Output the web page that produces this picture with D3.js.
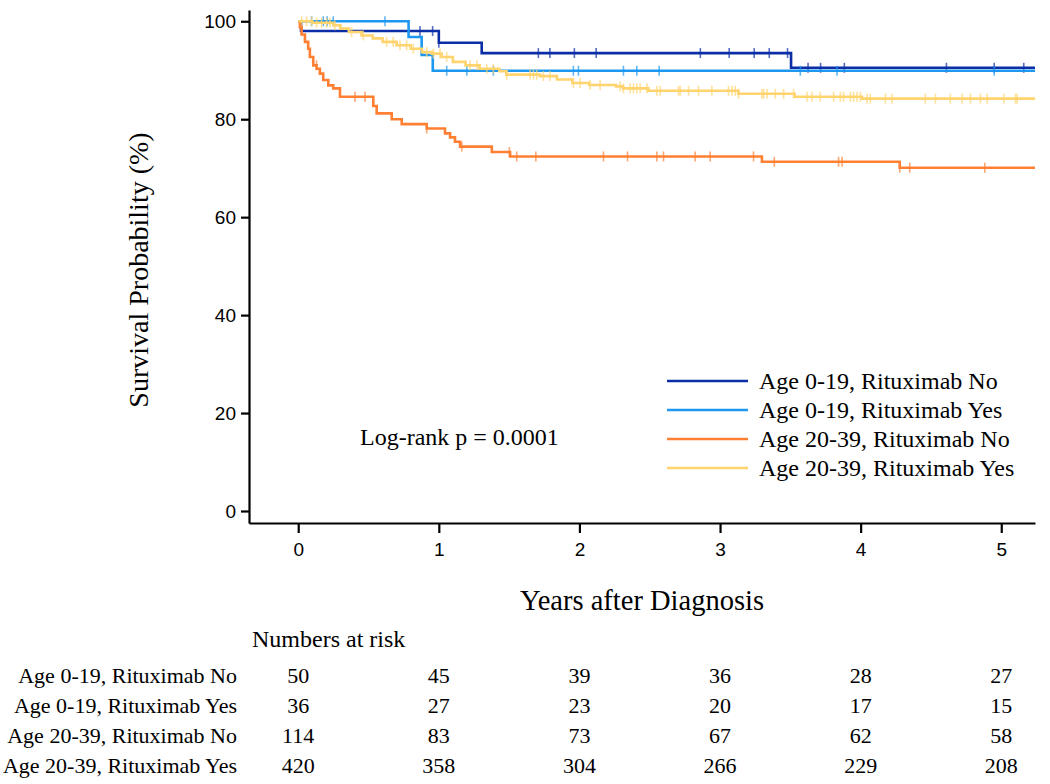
<!DOCTYPE html>
<html><head><meta charset="utf-8">
<script src="https://cdn.jsdelivr.net/npm/d3@7"></script>
<style>body{margin:0;background:#fff}</style>
</head><body>
<svg id="chart" width="1050" height="784"></svg>
<script>
// ---------- data ----------
const groups = ["Age 0-19, Rituximab No", "Age 0-19, Rituximab Yes", "Age 20-39, Rituximab No", "Age 20-39, Rituximab Yes"];
const colors = ["#0b2ea6", "#1e97f0", "#ff8033", "#ffd46e"];
const xTicks = [0, 1, 2, 3, 4, 5];
const yTicks = [0, 20, 40, 60, 80, 100];

const g1Times = [0, 0.02, 1.0, 1.305, 3.505];
const g1Surv = [100, 98.0, 95.6, 93.5, 90.5];
const g1Censor = [0.866, 0.956, 1.0, 1.708, 1.79, 1.964, 2.119, 2.86, 3.065, 3.243, 3.35, 3.48, 3.626, 3.715, 3.884, 4.61, 4.95, 5.16];

const g2Times = [0, 0.785, 0.878, 0.957];
const g2Surv = [100, 96.8, 93.1, 89.9];
const g2Censor = [0.095, 0.178, 0.206, 0.249, 0.617, 1.056, 1.199, 1.388, 1.957, 1.993, 2.313, 2.408, 2.567, 3.571, 3.832, 4.95];

const g3Times = [0, 0.012, 0.024, 0.048, 0.071, 0.083, 0.107, 0.131, 0.154, 0.178, 0.214, 0.249, 0.297, 0.534, 0.558, 0.665, 0.736, 0.914, 1.044, 1.08, 1.115, 1.151, 1.377, 1.507, 3.298, 4.278];
const g3Surv = [100, 98.8, 97.3, 95.8, 94.4, 92.7, 91.0, 90.3, 89.3, 88.0, 86.9, 86.3, 84.6, 82.7, 81.2, 80.0, 79.0, 78.1, 77.1, 76.3, 75.4, 74.4, 73.3, 72.4, 71.3, 70.1];
const g3Censor = [0.13, 0.404, 0.475, 0.914, 1.163, 1.502, 1.554, 1.69, 2.171, 2.342, 2.551, 2.598, 2.823, 2.93, 3.238, 3.386, 3.843, 3.868, 4.278, 4.349, 4.883];

const g4Times = [0, 0.1, 0.25, 0.3, 0.36, 0.45, 0.53, 0.6, 0.7, 0.8, 0.88, 0.95, 1.02, 1.1, 1.19, 1.29, 1.43, 1.48, 1.72, 1.84, 1.95, 2.07, 2.26, 2.31, 2.49, 3.13, 3.53, 4.01];
const g4Surv = [100, 99.7, 99.2, 98.5, 97.8, 97.1, 96.5, 95.8, 95.1, 94.4, 93.7, 93.4, 92.7, 91.7, 91.0, 90.3, 89.8, 89.1, 88.8, 88.1, 87.4, 87.0, 86.7, 86.3, 85.8, 85.2, 84.6, 84.2];
const g4Censor = [0.024, 0.06, 0.095, 0.131, 0.166, 0.202, 0.226, 0.261, 0.38, 0.463, 0.629, 0.676, 0.724, 0.771, 0.819, 0.914, 0.961, 1.008, 1.056, 1.222, 1.27, 1.341, 1.388, 1.483, 1.649, 1.673, 1.697, 1.744, 1.791, 1.957, 2.005, 2.076, 2.147, 2.29, 2.313, 2.361, 2.384, 2.408, 2.432, 2.48, 2.551, 2.574, 2.705, 2.717, 2.776, 2.847, 2.942, 3.06, 3.085, 3.108, 3.132, 3.298, 3.31, 3.334, 3.393, 3.452, 3.523, 3.619, 3.654, 3.713, 3.808, 3.856, 3.879, 3.927, 3.95, 3.974, 3.998, 4.046, 4.069, 4.176, 4.223, 4.46, 4.532, 4.638, 4.722, 4.781, 4.852, 4.9, 5.018, 5.101, 5.113];

const riskG1 = [50, 45, 39, 36, 28, 27];
const riskG2 = [36, 27, 23, 20, 17, 15];
const riskG3 = [114, 83, 73, 67, 62, 58];
const riskG4 = [420, 358, 304, 266, 229, 208];

const pText = "Log-rank p = 0.0001";
const xTitle = "Years after Diagnosis";
const yTitle = "Survival Probability (%)";
const riskTitle = "Numbers at risk";

// ---------- build ----------
const series = [
  {times: g1Times, surv: g1Surv, censor: g1Censor, risk: riskG1},
  {times: g2Times, surv: g2Surv, censor: g2Censor, risk: riskG2},
  {times: g3Times, surv: g3Surv, censor: g3Censor, risk: riskG3},
  {times: g4Times, surv: g4Surv, censor: g4Censor, risk: riskG4}
].map((s, i) => Object.assign(s, {name: groups[i], color: colors[i]}));

const xMax = 5.24;
const x = d3.scaleLinear().domain([-0.35, xMax]).range([249, 1035]);
const y = d3.scaleLinear().domain([-2.45, 102.3]).range([523, 10]);

const svg = d3.select("#chart");
const serif = "'Liberation Serif', 'Times New Roman', serif";
const sans = "'Liberation Sans', Arial, Helvetica, sans-serif";

// axes
const yAxis = svg.append("g").attr("transform", `translate(${x.range()[0]},0)`)
  .call(d3.axisLeft(y).tickValues(yTicks).tickFormat(d3.format("d")).tickSize(8).tickSizeOuter(0).tickPadding(5));
const xAxis = svg.append("g").attr("transform", `translate(0,${y.range()[0]})`)
  .call(d3.axisBottom(x).tickValues(xTicks).tickFormat(d3.format("d")).tickSize(10).tickSizeOuter(0).tickPadding(10));
[yAxis, xAxis].forEach(a => {
  a.select(".domain").attr("stroke", "#000").attr("stroke-width", 2.2);
  a.selectAll(".tick line").attr("stroke", "#000").attr("stroke-width", 2.2);
  a.selectAll(".tick text").attr("font-family", sans).attr("font-size", 19).attr("fill", "#000");
});

// curves
const line = d3.line().x(d => x(d[0])).y(d => y(d[1])).curve(d3.curveStepAfter);
function survAt(s, t) {
  let v = s.surv[0];
  for (let i = 0; i < s.times.length; i++) if (s.times[i] <= t) v = s.surv[i];
  return v;
}
series.forEach(s => {
  const pts = s.times.map((t, i) => [t, s.surv[i]]);
  pts.push([xMax, s.surv[s.surv.length - 1]]);
  const g = svg.append("g");
  g.append("path").datum(pts).attr("d", line).attr("fill", "none")
    .attr("stroke", s.color).attr("stroke-width", 2.6);
  g.selectAll("line.c").data(s.censor).enter().append("line")
    .attr("x1", d => x(d)).attr("x2", d => x(d))
    .attr("y1", d => y(survAt(s, d)) - 5).attr("y2", d => y(survAt(s, d)) + 5)
    .attr("stroke", s.color).attr("stroke-opacity", 0.7).attr("stroke-width", 1.6);
});

// legend
const leg = svg.append("g");
series.forEach((s, i) => {
  const ly = 381 + i * 29;
  leg.append("line").attr("x1", 667).attr("x2", 748).attr("y1", ly).attr("y2", ly)
    .attr("stroke", s.color).attr("stroke-width", 2.6);
  leg.append("text").attr("x", 759).attr("y", ly).attr("dy", "0.35em")
    .attr("font-family", serif).attr("font-size", 24).text(s.name);
});

// p-value
svg.append("text").attr("x", 360).attr("y", 437).attr("dy", "0.35em")
  .attr("font-family", serif).attr("font-size", 24).text(pText);

// axis titles
svg.append("text").attr("x", (x.range()[0] + x.range()[1]) / 2).attr("y", 600).attr("dy", "0.35em")
  .attr("text-anchor", "middle").attr("font-family", serif).attr("font-size", 28.5).text(xTitle);
svg.append("text").attr("transform", `translate(138,270) rotate(-90)`).attr("dy", "0.35em")
  .attr("text-anchor", "middle").attr("font-family", serif).attr("font-size", 28).text(yTitle);

// risk table
svg.append("text").attr("x", 252).attr("y", 639).attr("dy", "0.35em")
  .attr("font-family", serif).attr("font-size", 24).text(riskTitle);
series.forEach((s, i) => {
  const ry = 675 + i * 30.2;
  svg.append("text").attr("x", 237).attr("y", ry).attr("dy", "0.35em").attr("text-anchor", "end")
    .attr("font-family", serif).attr("font-size", 22).text(s.name);
  svg.selectAll(null).data(s.risk).enter().append("text")
    .attr("x", (d, j) => x(xTicks[j])).attr("y", ry).attr("dy", "0.35em").attr("text-anchor", "middle")
    .attr("font-family", serif).attr("font-size", 22).text(d => d);
});
</script>
</body></html>
